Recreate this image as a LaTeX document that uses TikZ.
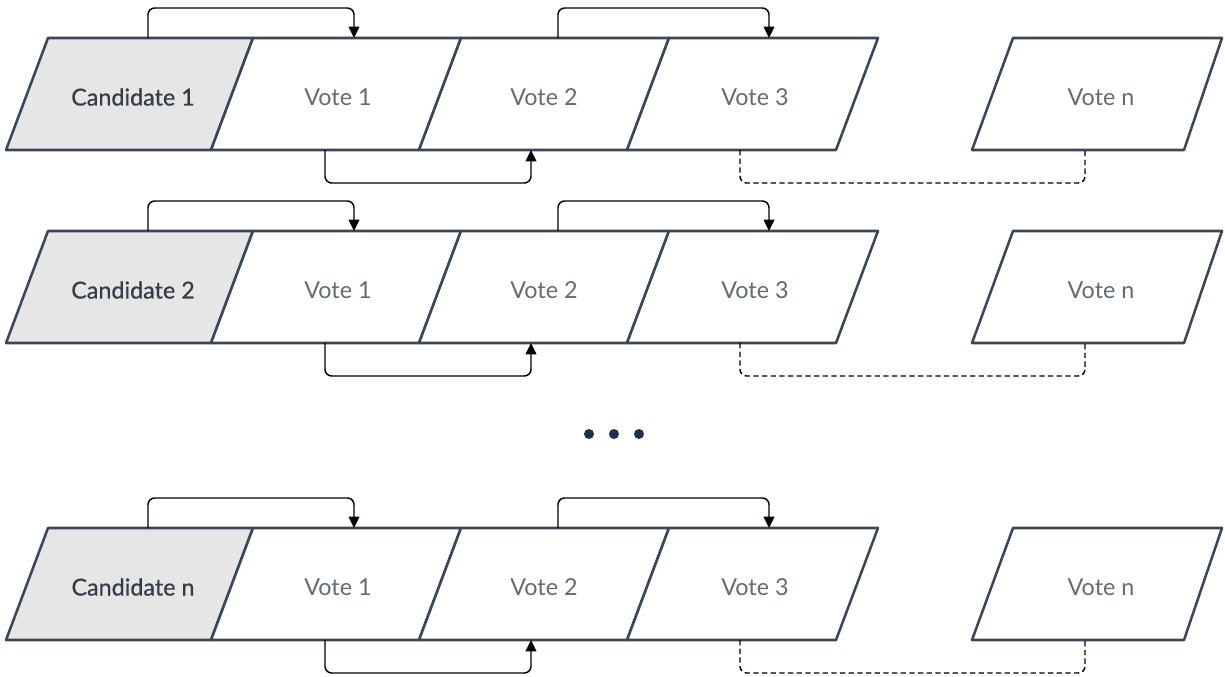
\documentclass[tikz,border=0pt]{standalone}
\usepackage{fontspec}
\setmainfont{Lato}
\newfontface\candfont{Lato}[FakeBold=0.6]
\usetikzlibrary{arrows.meta}

\definecolor{edge}{HTML}{3B4657}
\definecolor{candfill}{HTML}{E6E6E6}
\definecolor{candtext}{HTML}{363C47}
\definecolor{votetext}{HTML}{646B76}
\definecolor{dotcol}{HTML}{1F2F4D}

\tikzset{
  cell/.style={draw=edge, line width=1.9pt, line join=round},
  candcell/.style={cell, fill=candfill},
  votecell/.style={cell, fill=white},
  candlabel/.style={text=candtext, inner sep=0pt, font=\candfont\fontsize{17.5}{21}\selectfont},
  votelabel/.style={text=votetext, inner sep=0pt, font=\fontsize{17.5}{21}\selectfont},
  link/.style={draw=black, line width=1.1pt, rounded corners=5pt},
  tip/.style={-{Triangle[length=8.5pt,width=8pt]}},
  skip/.style={link, dash pattern=on 4pt off 2.5pt},
  dotmark/.style={circle, fill=dotcol, inner sep=0pt, minimum size=7.5pt},
}

% One row: a candidate cell followed by its vote cells and the links between them.
% #1 = y of the top edge, #2 = candidate label, #3 = name prefix
\newcommand\voterow[3]{%
  \pgfmathsetmacro\rt{#1}%
  \pgfmathsetmacro\rb{#1+112}%
  \pgfmathsetmacro\ru{#1-30}%
  \pgfmathsetmacro\rd{#1+145}%
  \pgfmathsetmacro\rm{#1+59}%
  % cells
  \path[candcell] (48,\rt) -- (253,\rt) -- (211,\rb) -- (6,\rb) -- cycle;
  \path[votecell] (253,\rt) -- (461,\rt) -- (419,\rb) -- (211,\rb) -- cycle;
  \path[votecell] (461,\rt) -- (669,\rt) -- (627,\rb) -- (419,\rb) -- cycle;
  \path[votecell] (669,\rt) -- (878,\rt) -- (836,\rb) -- (627,\rb) -- cycle;
  \path[votecell] (1013,\rt) -- (1222,\rt) -- (1184,\rb) -- (972,\rb) -- cycle;
  % labels
  \node[candlabel] (#3c)  at (133,\rm)  {#2};
  \node[votelabel] (#3v1) at (338,\rm)  {Vote 1};
  \node[votelabel] (#3v2) at (544,\rm)  {Vote 2};
  \node[votelabel] (#3v3) at (755,\rm)  {Vote 3};
  \node[votelabel] (#3vn) at (1101,\rm) {Vote n};
  % link end points on the cell edges
  \coordinate (#3ct)  at (148,\rt);
  \coordinate (#3v1t) at (354,\rt);
  \coordinate (#3v1b) at (325,\rb);
  \coordinate (#3v2t) at (558,\rt);
  \coordinate (#3v2b) at (531,\rb);
  \coordinate (#3v3t) at (769,\rt);
  \coordinate (#3v3b) at (740,\rb);
  \coordinate (#3vnb) at (1085,\rb);
  % knees of the links
  \coordinate (#3k1) at (148,\ru);
  \coordinate (#3k2) at (325,\rd);
  \coordinate (#3k3) at (558,\ru);
  \coordinate (#3k4) at (740,\rd);
  % links
  \draw[link,tip] (#3ct) -- (#3k1) -| (#3v1t);
  \draw[link,tip] (#3v1b) -- (#3k2) -| (#3v2b);
  \draw[link,tip] (#3v2t) -- (#3k3) -| (#3v3t);
  \draw[skip] (#3v3b) -- (#3k4) -| (#3vnb);
}

\begin{document}
\begin{tikzpicture}[x=0.75pt, y=-0.75pt]
  \useasboundingbox (0,0) rectangle (1225,677);

  \voterow{38}{Candidate 1}{ra}
  \voterow{231}{Candidate 2}{rb}
  \voterow{528}{Candidate n}{rn}

  % ellipsis between the rows
  \node[dotmark] (d1) at (589,434) {};
  \node[dotmark] (d2) at (614,434) {};
  \node[dotmark] (d3) at (639,434) {};
\end{tikzpicture}
\end{document}
